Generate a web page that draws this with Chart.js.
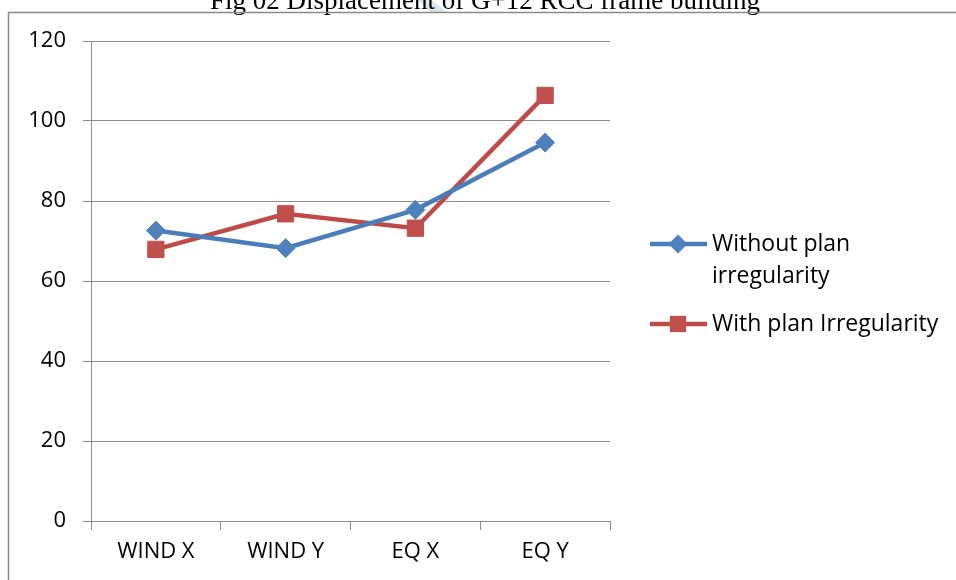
<!DOCTYPE html>
<html>
<head>
<meta charset="utf-8">
<script src="https://cdn.jsdelivr.net/npm/chart.js@4/dist/chart.umd.min.js"></script>
<style>
  html,body{margin:0;padding:0;background:#fff;}
  #wrap{width:956px;height:580px;position:relative;}
</style>
</head>
<body>
<div id="wrap"><canvas id="dispChart"></canvas></div>
<script>
const LOADS=['WIND X','WIND Y','EQ X','EQ Y'];
const WITHOUT_IRR=[72.6,68.2,77.8,94.6];
const WITH_IRR=[67.9,76.8,73.2,106.4];
const Y_TICKS=[0,20,40,60,80,100,120];
const TITLE='Fig 02 Displacement of G+12 RCC frame building';

const BLUE='#4A7EBB', RED='#BE4B48', GRID='#8C8C8C';
const FONT='"Open Sans", "Noto Sans", sans-serif';

// page frame, clipped caption and the faint stamp behind it
const framePlugin={id:'frame',
  beforeDraw(c){
    const ctx=c.ctx;
    ctx.save();
    ctx.fillStyle='#DCE4EC';
    ctx.beginPath();
    ctx.moveTo(418,0);ctx.lineTo(432,0);ctx.lineTo(446,12);ctx.lineTo(430,12);ctx.closePath();
    ctx.fill();
    ctx.fillStyle='#000';
    ctx.font='27px "Liberation Serif", "DejaVu Serif", serif';
    ctx.textAlign='center';ctx.textBaseline='alphabetic';
    ctx.fillText(TITLE,485,9);
    ctx.strokeStyle='#8A8A8A';ctx.lineWidth=1.5;
    ctx.beginPath();
    ctx.moveTo(960,12.5);ctx.lineTo(8.5,12.5);ctx.lineTo(8.5,580);
    ctx.stroke();
    ctx.restore();
  }
};

// two-entry legend at the right, first label wraps to two lines
const legendPlugin={id:'sideLegend',
  afterDraw(c){
    const ctx=c.ctx;
    const rows=[{ds:0,lines:['Without plan','irregularity'],y:244},{ds:1,lines:['With plan Irregularity'],y:324}];
    ctx.save();
    rows.forEach(r=>{
      const d=c.data.datasets[r.ds];
      ctx.strokeStyle=d.borderColor;ctx.lineWidth=d.borderWidth;
      ctx.beginPath();ctx.moveTo(650,r.y);ctx.lineTo(707,r.y);ctx.stroke();
      ctx.fillStyle=d.pointBackgroundColor;
      ctx.beginPath();
      if(d.pointStyle==='rect'){const s=d.pointRadius*Math.SQRT1_2;ctx.rect(678-s,r.y-s,2*s,2*s);}
      else{const s=d.pointRadius;ctx.moveTo(678-s,r.y);ctx.lineTo(678,r.y-s);ctx.lineTo(678+s,r.y);ctx.lineTo(678,r.y+s);ctx.closePath();}
      ctx.fill();
      ctx.fillStyle='#000';ctx.font='23px '+FONT;ctx.textBaseline='middle';ctx.textAlign='left';
      r.lines.forEach((t,i)=>ctx.fillText(t,712,r.y+i*32));
    });
    ctx.restore();
  }
};

new Chart(document.getElementById('dispChart'),{type:'line',
  data:{labels:LOADS,datasets:[
    {label:'Without plan irregularity',data:WITHOUT_IRR,borderColor:BLUE,backgroundColor:BLUE,borderWidth:4.5,
     pointStyle:'rectRot',pointRadius:9.5,pointBackgroundColor:'#4F81BD',pointBorderColor:'#4F81BD',pointBorderWidth:1,tension:0},
    {label:'With plan Irregularity',data:WITH_IRR,borderColor:RED,backgroundColor:RED,borderWidth:4.5,
     pointStyle:'rect',pointRadius:11.5,pointBackgroundColor:'#C0504D',pointBorderColor:'#C0504D',pointBorderWidth:1,tension:0}
  ]},
  options:{responsive:true,maintainAspectRatio:false,animation:false,
    layout:{padding:{left:0,right:346,top:41,bottom:0}},
    plugins:{legend:{display:false},tooltip:{enabled:false}},
    scales:{
      x:{offset:true,
        grid:{offset:true,drawOnChartArea:false,drawTicks:true,tickLength:9,color:GRID,lineWidth:1},
        border:{color:GRID,width:1},
        ticks:{color:'#000',font:{family:FONT,size:22},padding:9},
        afterFit(s){s.height=59;}},
      y:{min:0,max:120,
        afterBuildTicks(s){s.ticks=Y_TICKS.map(v=>({value:v}));},
        grid:{color:GRID,lineWidth:1,tickLength:8},
        border:{color:GRID,width:1},
        ticks:{color:'#000',font:{family:FONT,size:22},padding:17},
        afterFit(s){s.width=91;}}
    }
  },
  plugins:[framePlugin,legendPlugin]
});
</script>
</body>
</html>
